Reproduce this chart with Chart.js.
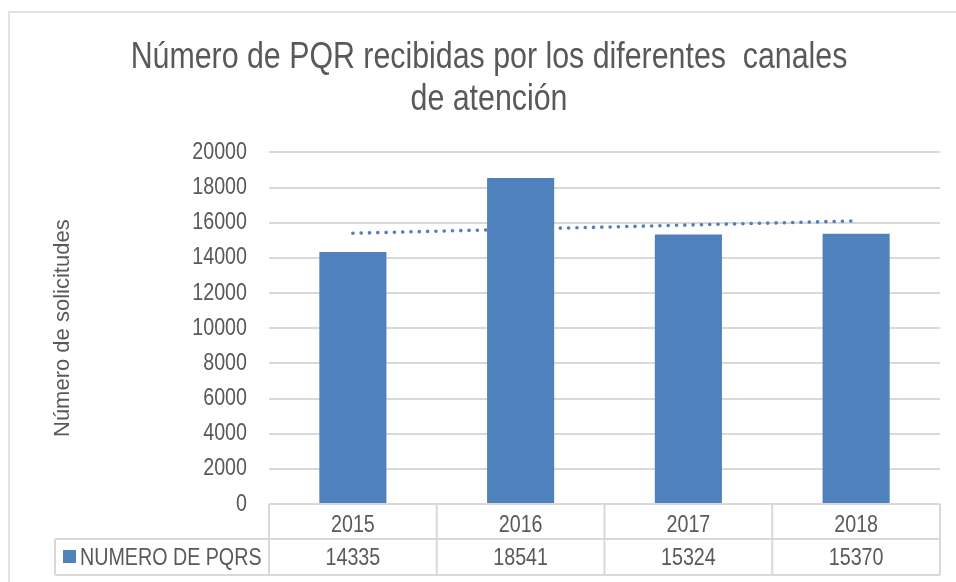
<!DOCTYPE html>
<html>
<head>
<meta charset="utf-8">
<script src="https://cdn.jsdelivr.net/npm/chart.js@4"></script>
<style>
  html, body { margin: 0; padding: 0; background: #fff; }
  #wrap { width: 956px; height: 582px; }
</style>
</head>
<body>
<div id="wrap"><canvas id="pqr"></canvas></div>
<script>
const years = ["2015", "2016", "2017", "2018"];
const pqrs = [14335, 18541, 15324, 15370];
const trend = [15400, 15633, 15867, 16100];
const yTicks = [0, 2000, 4000, 6000, 8000, 10000, 12000, 14000, 16000, 18000, 20000];
const seriesName = "NUMERO DE PQRS";

// no Arial Narrow here: "NarrowX" is a marker, text using it gets squeezed horizontally
const NARROW = "NarrowX, 'Liberation Sans', sans-serif";
const REGULAR = "'Liberation Sans', sans-serif";
const SQUEEZE = 0.82;
const GREY = "#595959";
const BLUE = "#4F81BD";
const LINE = "#d9d9d9";

const canvas = document.getElementById("pqr");
const c2d = canvas.getContext("2d");
const rawFill = c2d.fillText.bind(c2d);
c2d.fillText = function (text, x, y, maxWidth) {
  if (this.font.indexOf("NarrowX") < 0) {
    return maxWidth === undefined ? rawFill(text, x, y) : rawFill(text, x, y, maxWidth);
  }
  this.save();
  this.translate(x, y);
  this.scale(SQUEEZE, 1);
  if (maxWidth === undefined) rawFill(text, 0, 0);
  else rawFill(text, 0, 0, maxWidth / SQUEEZE);
  this.restore();
};

// outer frame + data table under the x axis
const tablePlugin = {
  id: "dataTable",
  beforeDraw(chart) {
    const ctx = chart.ctx;
    ctx.save();
    ctx.strokeStyle = LINE;
    ctx.lineWidth = 1.5;
    ctx.beginPath();
    ctx.moveTo(9, 582);
    ctx.lineTo(9, 12);
    ctx.lineTo(956, 12);
    ctx.stroke();
    ctx.restore();
  },
  afterDraw(chart) {
    const ctx = chart.ctx;
    const area = chart.chartArea;
    const x = chart.scales.x;
    const half = (x.getPixelForTick(1) - x.getPixelForTick(0)) / 2;
    const r1 = area.bottom, r2 = area.bottom + 35, r3 = area.bottom + 71;
    const left = 55;
    ctx.save();
    ctx.strokeStyle = LINE;
    ctx.lineWidth = 2;
    ctx.beginPath();
    ctx.moveTo(area.left, r1); ctx.lineTo(area.right, r1);
    ctx.moveTo(left, r2); ctx.lineTo(area.right, r2);
    ctx.moveTo(left, r3); ctx.lineTo(area.right, r3);
    ctx.moveTo(left, r2); ctx.lineTo(left, r3);
    ctx.moveTo(area.left, r1); ctx.lineTo(area.left, r3);
    years.forEach((y, i) => {
      const px = x.getPixelForTick(i) + half;
      ctx.moveTo(px, r1); ctx.lineTo(px, r3);
    });
    ctx.stroke();

    const midY = (r2 + r3) / 2;
    ctx.fillStyle = BLUE;
    ctx.fillRect(63, midY - 7, 13, 13);
    ctx.fillStyle = GREY;
    ctx.font = "24px " + NARROW;
    ctx.textBaseline = "middle";
    ctx.textAlign = "left";
    ctx.fillText(seriesName, 80, midY + 1);
    ctx.textAlign = "center";
    pqrs.forEach((v, i) => {
      ctx.fillText(String(v), x.getPixelForTick(i), midY + 1);
    });
    ctx.restore();
  }
};

new Chart(canvas, {
  data: {
    labels: years,
    datasets: [
      {
        type: "bar",
        label: seriesName,
        data: pqrs,
        backgroundColor: BLUE,
        categoryPercentage: 1,
        barPercentage: 0.4,
        order: 0
      },
      {
        type: "line",
        label: "Lineal",
        data: trend,
        borderColor: BLUE,
        borderWidth: 3.6,
        borderDash: [0.1, 8.2],
        borderCapStyle: "round",
        pointRadius: 0,
        fill: false,
        order: 1
      }
    ]
  },
  options: {
    responsive: true,
    maintainAspectRatio: false,
    animation: false,
    layout: { padding: { left: 38, right: 16, top: 12, bottom: 4 } },
    plugins: {
      legend: { display: false },
      tooltip: { enabled: false },
      title: {
        display: true,
        text: ["Número de PQR recibidas por los diferentes  canales", "de atención"],
        color: GREY,
        font: { family: NARROW, size: 37, weight: "normal", lineHeight: 1.14 },
        padding: { top: 25, bottom: 31 }
      }
    },
    scales: {
      x: {
        grid: { display: false, drawTicks: false },
        border: { display: false },
        ticks: { color: GREY, font: { family: NARROW, size: 24 }, padding: 7 },
        afterFit(s) { s.height = 74; }
      },
      y: {
        min: 0,
        max: 20000,
        afterBuildTicks(s) { s.ticks = yTicks.map(v => ({ value: v })); },
        grid: { color: LINE, lineWidth: 2, drawTicks: false },
        border: { display: false },
        ticks: { color: GREY, font: { family: NARROW, size: 24 }, padding: 22, callback: v => v },
        title: {
          display: true,
          text: "Número de solicitudes",
          color: GREY,
          font: { family: REGULAR, size: 22 },
          padding: { top: 12, bottom: 0 }
        },
        afterFit(s) { s.width = 231; }
      }
    }
  },
  plugins: [tablePlugin]
});
</script>
</body>
</html>
